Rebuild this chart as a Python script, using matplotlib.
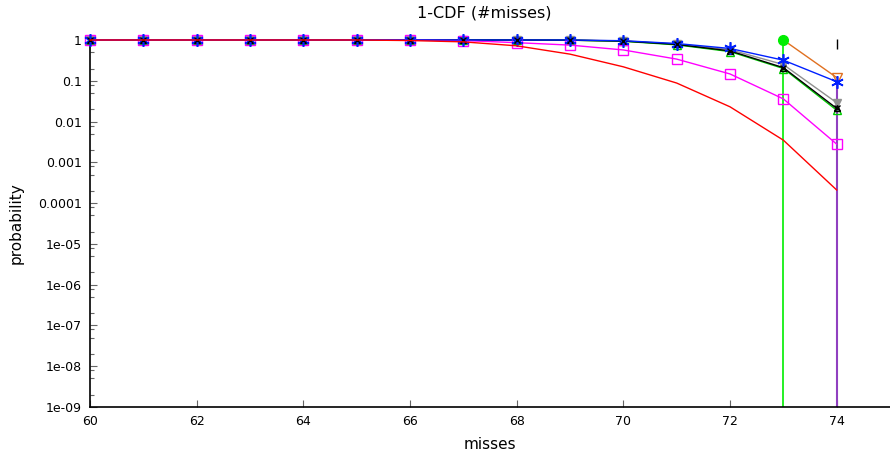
import matplotlib
matplotlib.use("Agg")
import matplotlib.pyplot as plt
import numpy as np
from matplotlib.ticker import LogLocator, FixedLocator

misses = list(range(60, 75))

red_vals = [1, 1, 1, 1, 1, 1, 0.97, 0.9, 0.72, 0.45, 0.22, 0.088, 0.023, 0.0035, 0.00021]
magenta_vals = [1, 1, 1, 1, 1, 1, 1, 0.97, 0.86, 0.75, 0.57, 0.34, 0.147, 0.036, 0.0028]
blue_vals = [1, 1, 1, 1, 1, 1, 1, 1, 1, 1, 0.96, 0.82, 0.62, 0.32, 0.095]
green_vals = [1, 1, 1, 1, 1, 1, 1, 1, 1, 0.99, 0.93, 0.76, 0.52, 0.2, 0.019]
black_vals = [1, 1, 1, 1, 1, 1, 1, 1, 1, 0.99, 0.94, 0.78, 0.54, 0.21, 0.021]
gray_vals = [1, 1, 1, 1, 1, 1, 1, 1, 1, 0.99, 0.95, 0.8, 0.58, 0.25, 0.029]

lime_x = [73, 73]
lime_y = [1, 1e-12]
orange_x = [73, 74]
orange_y = [1, 0.12]
purple_x = [74, 74]
purple_y = [0.095, 1e-12]
tick_x = [74]
tick_y = [0.8]

xticks = [60, 62, 64, 66, 68, 70, 72, 74]
ytick_vals = [1e-9, 1e-8, 1e-7, 1e-6, 1e-5, 1e-4, 1e-3, 1e-2, 1e-1, 1]
ytick_labels = ["1e-09", "1e-08", "1e-07", "1e-06", "1e-05", "0.0001", "0.001", "0.01", "0.1", "1"]

fig = plt.figure(figsize=(8.9, 4.57), dpi=100)
ax = fig.add_axes([90/890, 50/457, 800/890, 367/457])
ax.set_yscale("log")

kw = dict(clip_on=False, lw=1.0)
ax.plot(lime_x, lime_y, color="#00ee00", lw=1.2, zorder=2)
ax.plot(purple_x, purple_y, color="#9040c0", lw=1.5, zorder=2)
ax.plot(misses, gray_vals, color="#909090", marker="v", ms=6, mfc="#909090", mec="#909090", zorder=3, **kw)
ax.plot(misses, green_vals, color="#00cc00", marker="^", ms=6, mfc="none", mec="#00cc00", zorder=3, **kw)
ax.plot(misses, black_vals, color="black", marker="^", ms=5, mfc="none", mec="black", zorder=4, **kw)
ax.plot(misses, magenta_vals, color="#ff00ff", marker="s", ms=6.5, mfc="none", mec="#ff00ff", zorder=4, **kw)
ax.plot(misses, blue_vals, color="#0020ff", marker=(6, 2, 0), ms=9, mew=1.2, mec="#0020ff", zorder=5, **kw)
ax.plot(misses, black_vals, color="none", marker="x", ms=5, mec="black", zorder=5, clip_on=False)
ax.plot(misses, red_vals, color="#ff0000", lw=1.0, zorder=5, clip_on=False)
ax.plot(orange_x, orange_y, color="#e07020", marker="v", ms=7, mfc="none", mec="#e07020", markevery=[1], zorder=4, **kw)
ax.plot(orange_x[:1], orange_y[:1], color="#00ee00", marker="o", ms=7, ls="none", zorder=6, clip_on=False)
ax.plot(tick_x, tick_y, color="black", marker="|", ms=7, ls="none", zorder=6, clip_on=False)

ax.set_xlim(60, 75)
ax.set_ylim(1e-9, 1)
ax.set_xticks(xticks)
ax.set_xticklabels([str(v) for v in xticks], fontsize=9)
ax.yaxis.set_major_locator(FixedLocator(ytick_vals))
ax.set_yticklabels(ytick_labels, fontsize=9)
ax.yaxis.set_minor_locator(LogLocator(base=10, subs=(2, 5, 8), numticks=20))
ax.tick_params(axis="both", which="major", direction="in", length=5, width=0.8, color="#666666", pad=6)
ax.tick_params(axis="y", which="minor", direction="in", length=3, width=0.8, color="#666666")
ax.tick_params(axis="x", which="minor", length=0)

for s in ["top", "right"]:
    ax.spines[s].set_visible(False)
for s in ["left", "bottom"]:
    ax.spines[s].set_linewidth(1.2)
    ax.spines[s].set_color("black")

ax.set_xlabel("misses", fontsize=11, labelpad=6)
ax.set_ylabel("probability", fontsize=11, labelpad=10)
fig.text(484/890, 1 - 13/457, "1-CDF (#misses)", ha="center", va="center", fontsize=11.5)

fig.savefig("out.png", dpi=100)
